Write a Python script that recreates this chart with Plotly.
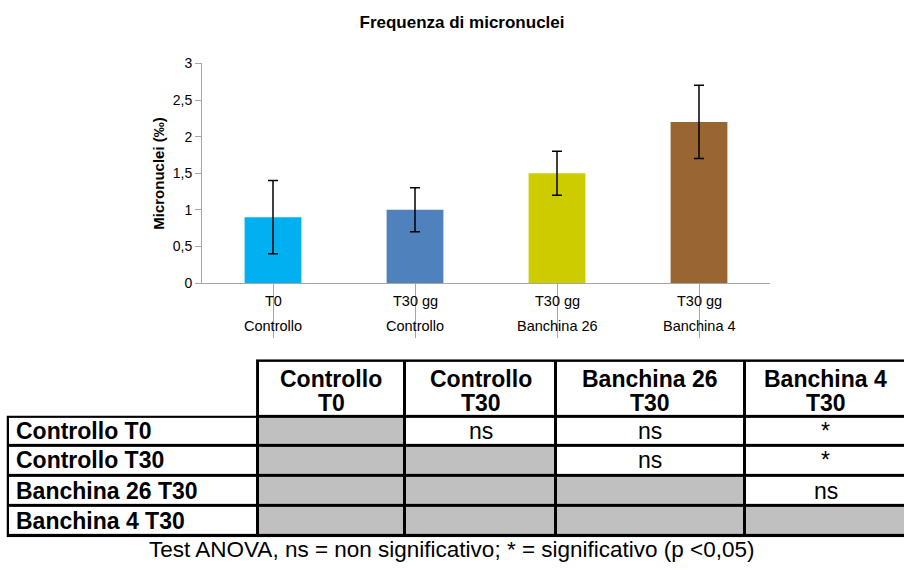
import plotly.graph_objects as go

# ---- data ----
time_labels = ["T0", "T30 gg", "T30 gg", "T30 gg"]
site_labels = ["Controllo", "Controllo", "Banchina 26", "Banchina 4"]
values = [0.9, 1.0, 1.5, 2.2]
errors = [0.5, 0.3, 0.3, 0.5]
bar_colors = ["#00B0F0", "#4F81BD", "#CCCC00", "#996633"]
y_ticks = [0, 0.5, 1, 1.5, 2, 2.5, 3]

group_names = ["Controllo", "Controllo", "Banchina 26", "Banchina 4"]
group_times = ["T0", "T30", "T30", "T30"]
# significance matrix: rows = first group, cols = second group
table_sig = [
    ["", "ns", "ns", "*"],
    ["", "", "ns", "*"],
    ["", "", "", "ns"],
    ["", "", "", ""],
]
caption = "Test ANOVA, ns = non significativo; * = significativo (p <0,05)"

# ---- layout constants (pixels) ----
W, H = 904, 570
FONT = "Liberation Sans, Arial, sans-serif"
col_widths = [250, 148, 151, 189, 162]   # table column widths (px)
row_heights = [58, 29, 31, 31, 31]       # header + 4 rows (px)
TBL_LEFT, TBL_TOP = 8, 363
BW = 3  # border width

cats = list(range(len(values)))

fig = go.Figure()
fig.add_trace(go.Bar(
    x=cats, y=values,
    marker=dict(color=bar_colors, line=dict(width=0)),
    width=0.4,
    error_y=dict(type="data", array=errors, visible=True, color="black",
                 thickness=1.5, width=5),
    showlegend=False, hoverinfo="skip",
))

# category labels (two rows) below the axis
for i, (t, s) in enumerate(zip(time_labels, site_labels)):
    fig.add_annotation(x=i, y=1 - 301 / H, xref="x", yref="paper", text=t,
                       showarrow=False, font=dict(family=FONT, size=14.5, color="#000"),
                       yanchor="middle")
    fig.add_annotation(x=i, y=1 - 327.5 / H, xref="x", yref="paper", text=s,
                       showarrow=False, font=dict(family=FONT, size=14.5, color="#000"),
                       yanchor="middle")

# ---- table drawn as a heatmap with gaps over a black background ----
x_edges = [0]
for w in col_widths:
    x_edges.append(x_edges[-1] + w)
y_edges = [0]
for h in row_heights:
    y_edges.append(y_edges[-1] + h)

n = len(group_names)
z = [[0] * (n + 1)]  # header row
for r in range(n):
    z.append([0] + [1 if c <= r else 0 for c in range(n)])

fig.add_trace(go.Heatmap(
    x=x_edges, y=y_edges, z=z, xaxis="x2", yaxis="y2",
    colorscale=[[0, "white"], [0.5, "white"], [0.5, "#C0C0C0"], [1, "#C0C0C0"]],
    zmin=0, zmax=1, showscale=False, xgap=BW, ygap=BW, hoverinfo="skip",
))

x_range_end = (W - TBL_LEFT) + BW / 2
# black backgrounds forming the borders (top-left cell left without border)
fig.add_shape(type="rect", xref="x2", yref="y2", layer="below",
              x0=x_edges[1] - BW / 2, x1=x_edges[-1], y0=-BW / 2, y1=y_edges[1],
              fillcolor="black", line=dict(width=0))
fig.add_shape(type="rect", xref="x2", yref="y2", layer="below",
              x0=-BW / 2, x1=x_edges[-1], y0=y_edges[1] - BW / 2, y1=y_edges[-1] + BW / 2,
              fillcolor="black", line=dict(width=0))

TF = 23
hdr_mid = (y_edges[0] + y_edges[1]) / 2
for c in range(n):
    xc = (x_edges[c + 1] + x_edges[c + 2]) / 2
    fig.add_annotation(x=xc, y=hdr_mid - 10.5, xref="x2", yref="y2",
                       text="<b>%s</b>" % group_names[c], showarrow=False,
                       font=dict(family=FONT, size=TF, color="black"))
    fig.add_annotation(x=xc, y=hdr_mid + 14.5, xref="x2", yref="y2",
                       text="<b>%s</b>" % group_times[c], showarrow=False,
                       font=dict(family=FONT, size=TF, color="black"))
for r in range(n):
    yc = (y_edges[r + 1] + y_edges[r + 2]) / 2
    fig.add_annotation(x=x_edges[0] + 6, y=yc, xref="x2", yref="y2", xanchor="left",
                       text="<b>%s %s</b>" % (group_names[r], group_times[r]),
                       showarrow=False, font=dict(family=FONT, size=TF, color="black"))
    for c in range(n):
        if table_sig[r][c]:
            xc = (x_edges[c + 1] + x_edges[c + 2]) / 2
            fig.add_annotation(x=xc, y=yc, xref="x2", yref="y2",
                               text=table_sig[r][c], showarrow=False,
                               font=dict(family=FONT, size=TF, color="black"))

fig.add_annotation(x=452 / W, y=1 - 557 / H, xref="paper", yref="paper",
                   text=caption, showarrow=False,
                   font=dict(family=FONT, size=22.5, color="black"), yanchor="middle")

fig.add_annotation(x=148 / W, y=0.5, xref="paper", yref="y domain",
                   text="<b>Micronuclei (‰)</b>", textangle=-90, showarrow=False,
                   font=dict(family=FONT, size=15, color="black"))

fig.update_layout(
    width=W, height=H,
    margin=dict(l=0, r=0, t=0, b=0),
    paper_bgcolor="white", plot_bgcolor="white",
    separators=",.",
    title=dict(text="<b>Frequenza di micronuclei</b>", x=462 / W, y=1 - 22 / H,
               xanchor="center", yanchor="middle",
               font=dict(family=FONT, size=17, color="black")),
    xaxis=dict(domain=[202 / W, 770 / W], range=[-0.5, 3.5],
               tickmode="array", tickvals=cats, showticklabels=False,
               tickson="boundaries", ticks="outside", ticklen=54, tickcolor="#A6A6A6",
               tickwidth=1, showline=True, linecolor="#A6A6A6", linewidth=1,
               showgrid=False, zeroline=False, fixedrange=True),
    yaxis=dict(domain=[1 - 283 / H, 1 - 57 / H], range=[0, 3],
               tickvals=y_ticks, ticks="outside", ticklen=6, tickcolor="#A6A6A6",
               showline=True, linecolor="#A6A6A6", linewidth=1,
               showgrid=False, zeroline=False, fixedrange=True,
               tickfont=dict(family=FONT, size=14, color="#000")),
    xaxis2=dict(domain=[(TBL_LEFT - BW / 2) / W, 1.0], range=[-BW / 2, x_range_end],
                visible=False, fixedrange=True),
    yaxis2=dict(domain=[1 - (TBL_TOP + y_edges[-1] + BW / 2) / H, 1 - (TBL_TOP - BW / 2) / H],
                range=[y_edges[-1] + BW / 2, -BW / 2],
                visible=False, fixedrange=True),
)

fig.write_html("out.html", config={"displayModeBar": False},
               post_script="document.body.style.margin='0';document.body.style.overflow='hidden';")
